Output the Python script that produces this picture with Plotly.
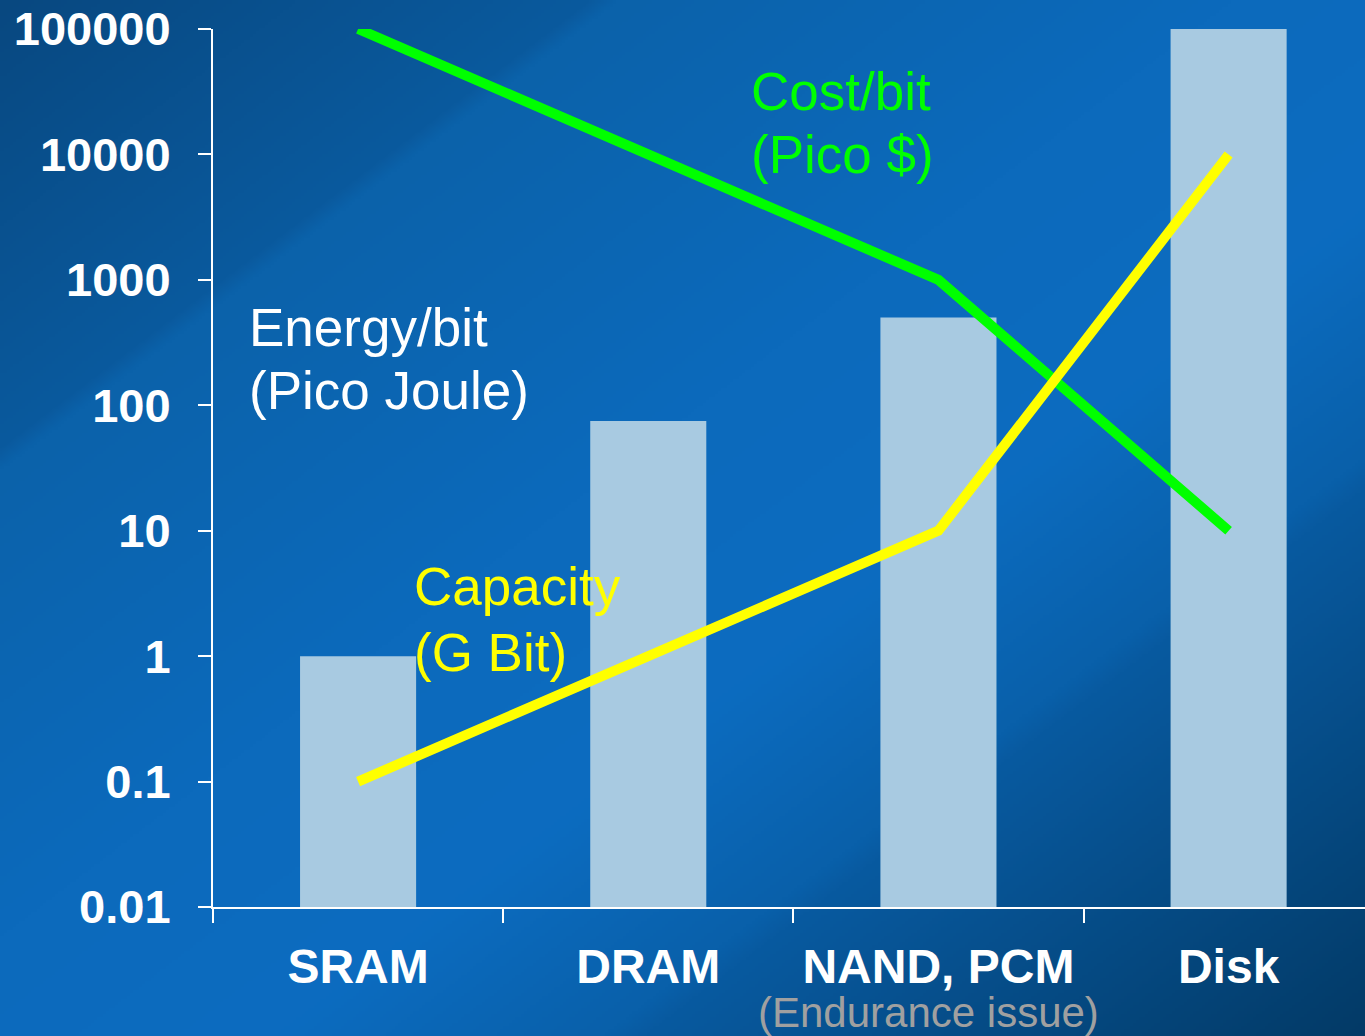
import base64, struct, zlib
import numpy as np
import plotly.graph_objects as go

# ---- data ----
categories = ["SRAM", "DRAM", "NAND, PCM", "Disk"]
energy_per_bit = [1, 75, 500, 100000]        # bars (Pico Joule)
cost_per_bit = [100000, 10000, 1000, 10]      # green line (Pico $)
capacity = [0.1, 1, 10, 10000]                # yellow line (G Bit)
y_tickvals = [0.01, 0.1, 1, 10, 100, 1000, 10000, 100000]
y_ticktext = ["0.01", "0.1", "1", "10", "100", "1000", "10000", "100000"]

# ---- background gradient image (PNG built in memory) ----
def make_bg(w=455, h=346):
    yy, xx = np.mgrid[0:h, 0:w]
    d = xx / w + yy / h
    stops = [0.0, 0.43, 0.45, 0.9, 1.2, 1.44, 1.47, 2.0]
    R = [8, 10, 11, 12, 12, 9, 8, 3]
    G = [72, 90, 98, 106, 108, 96, 90, 58]
    B = [128, 158, 170, 188, 192, 170, 160, 102]
    img = np.stack([np.interp(d, stops, R), np.interp(d, stops, G), np.interp(d, stops, B)], axis=-1)
    img = np.clip(img, 0, 255).astype(np.uint8)
    raw = b"".join(b"\x00" + img[i].tobytes() for i in range(h))
    def chunk(t, data):
        c = struct.pack(">I", len(data)) + t + data
        return c + struct.pack(">I", zlib.crc32(t + data) & 0xFFFFFFFF)
    png = b"\x89PNG\r\n\x1a\n" + chunk(b"IHDR", struct.pack(">IIBBBBB", w, h, 8, 2, 0, 0, 0)) \
        + chunk(b"IDAT", zlib.compress(raw, 9)) + chunk(b"IEND", b"")
    return "data:image/png;base64," + base64.b64encode(png).decode()

W, H = 1365, 1036
ML, MR, MT, MB = 213, 0, 29, 129
PW, PH = W - ML - MR, H - MT - MB

FONT = "Arial, Liberation Sans, Helvetica, sans-serif"

fig = go.Figure()
fig.add_trace(go.Bar(x=categories, y=energy_per_bit, width=0.4,
                     marker=dict(color="rgb(168,202,225)", line=dict(width=0)),
                     showlegend=False))
fig.add_trace(go.Scatter(x=categories, y=cost_per_bit, mode="lines",
                         line=dict(color="#00ff00", width=10), showlegend=False))
fig.add_trace(go.Scatter(x=categories, y=capacity, mode="lines",
                         line=dict(color="#ffff00", width=10), showlegend=False))

def px(xp): return (xp - ML) / PW
def py(yp): return (H - MB - yp) / PH

annots = [
    ("Energy/bit", 248, 327, "white", 53, "left"),
    ("(Pico Joule)", 248, 390, "white", 53, "left"),
    ("Cost/bit", 750, 92, "#00ff00", 53, "left"),
    ("(Pico $)", 750, 155, "#00ff00", 53, "left"),
    ("Capacity", 413, 587, "#ffff00", 53, "left"),
    ("(G Bit)", 413, 652, "#ffff00", 53, "left"),
    ("(Endurance issue)", 928, 1012, "rgb(160,160,160)", 42, "center"),
]
for text, xx, yy, color, size, xa in annots:
    fig.add_annotation(text=text, x=px(xx), y=py(yy), xref="paper", yref="paper",
                       xanchor=xa, yanchor="middle", showarrow=False, align="left",
                       borderpad=0,
                       font=dict(family=FONT, size=size, color=color))

fig.update_layout(
    width=W, height=H,
    margin=dict(l=ML, r=MR, t=MT, b=MB, pad=0),
    paper_bgcolor="rgb(12,100,180)",
    plot_bgcolor="rgba(0,0,0,0)",
    images=[dict(source=make_bg(), xref="paper", yref="paper",
                 x=-ML / PW, y=1 + MT / PH, sizex=W / PW, sizey=H / PH,
                 xanchor="left", yanchor="top", sizing="stretch", layer="below")],
    xaxis=dict(type="category", range=[-0.5, 3.47], showgrid=False, zeroline=False,
               showline=True, linecolor="white", linewidth=2,
               ticks="outside", tickson="boundaries", ticklen=14, tickwidth=2, tickcolor="white",
               ticklabelstandoff=16,
               tickfont=dict(family=FONT, size=48, color="white", weight="bold")),
    yaxis=dict(type="log", range=[-2, 5], showgrid=False, zeroline=False,
               showline=True, linecolor="white", linewidth=2,
               ticks="outside", ticklen=13, tickwidth=2, tickcolor="white",
               tickvals=y_tickvals, ticktext=y_ticktext, ticklabelstandoff=18,
               tickfont=dict(family=FONT, size=47, color="white", weight="bold")),
)

fig.write_html("out.html", config={"displayModeBar": False},
               post_script="document.body.style.margin='0';document.body.style.padding='0';"
                           "document.body.style.overflow='hidden';")
